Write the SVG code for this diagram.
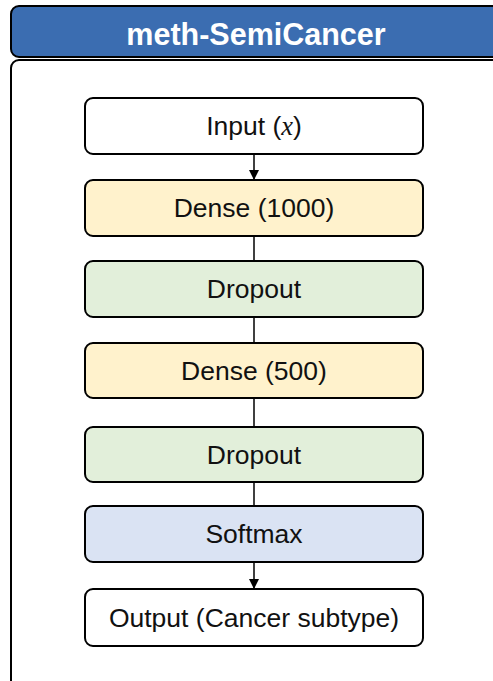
<svg xmlns="http://www.w3.org/2000/svg" width="493" height="681" viewBox="0 0 493 681">
<style>
.box{stroke:#000;stroke-width:2;}
.lbl{font-family:"Liberation Sans",Arial,sans-serif;font-size:26.5px;fill:#111;text-anchor:middle;}
.con{stroke:#000;stroke-width:1.5;fill:none;}
</style>
<defs>
<marker id="ah" viewBox="0 0 10 10" refX="10" refY="5" markerWidth="10" markerHeight="10" markerUnits="userSpaceOnUse" orient="auto">
<path d="M0,0 L10,5 L0,10 z" fill="#000"/>
</marker>
</defs>
<rect width="493" height="681" fill="#fff"/>
<g id="header">
<rect x="11" y="6" width="500" height="51" rx="8" fill="#3b6db1" class="box"/>
<text x="256" y="45" font-family="'Liberation Sans',Arial,sans-serif" font-size="30.5" font-weight="bold" fill="#fff" text-anchor="middle">meth-SemiCancer</text>
</g>
<g id="panel">
<rect x="11" y="60" width="500" height="660" rx="8" fill="#fff" class="box"/>
</g>
<g id="connectors">
<line x1="254" y1="154" x2="254" y2="180" class="con" marker-end="url(#ah)"/>
<line x1="254" y1="236" x2="254" y2="261" class="con"/>
<line x1="254" y1="317" x2="254" y2="343" class="con"/>
<line x1="254" y1="398" x2="254" y2="427" class="con"/>
<line x1="254" y1="482" x2="254" y2="506" class="con"/>
<line x1="254" y1="562" x2="254" y2="589" class="con" marker-end="url(#ah)"/>
</g>
<g id="input">
<rect x="85" y="98" width="338" height="56" rx="8" fill="#fff" class="box"/>
<text x="254" y="135" class="lbl">Input (<tspan font-family="'Liberation Serif','DejaVu Serif',serif" font-style="italic">x</tspan>)</text>
</g>
<g id="dense1">
<rect x="85" y="180" width="338" height="56" rx="8" fill="#fff2cc" class="box"/>
<text x="254" y="217" class="lbl">Dense (1000)</text>
</g>
<g id="dropout1">
<rect x="85" y="261" width="338" height="56" rx="8" fill="#e2efda" class="box"/>
<text x="254" y="298" class="lbl">Dropout</text>
</g>
<g id="dense2">
<rect x="85" y="343" width="338" height="55" rx="8" fill="#fff2cc" class="box"/>
<text x="254" y="380" class="lbl">Dense (500)</text>
</g>
<g id="dropout2">
<rect x="85" y="427" width="338" height="55" rx="8" fill="#e2efda" class="box"/>
<text x="254" y="464" class="lbl">Dropout</text>
</g>
<g id="softmax">
<rect x="85" y="506" width="338" height="56" rx="8" fill="#dae3f3" class="box"/>
<text x="254" y="543" class="lbl">Softmax</text>
</g>
<g id="output">
<rect x="85" y="589" width="338" height="57" rx="8" fill="#fff" class="box"/>
<text x="254" y="627" class="lbl">Output (Cancer subtype)</text>
</g>
</svg>
